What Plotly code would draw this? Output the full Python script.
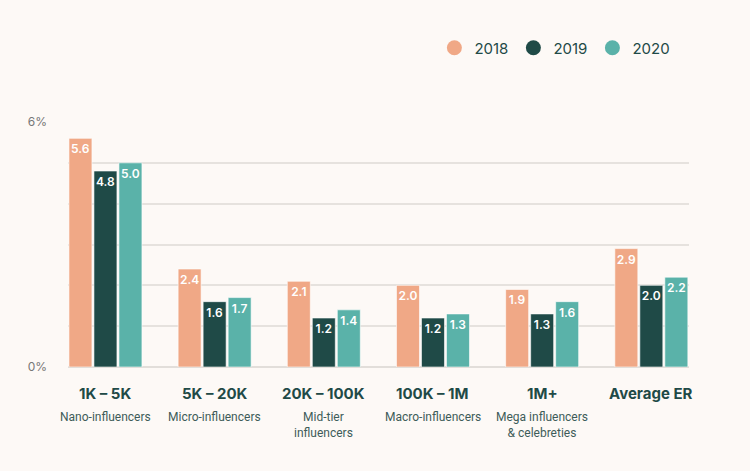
import plotly.graph_objects as go

categories = ["1K – 5K", "5K – 20K", "20K – 100K", "100K – 1M", "1M+", "Average ER"]
subtitles = ["Nano-influencers", "Micro-influencers", "Mid-tier<br>influencers",
             "Macro-influencers", "Mega influencers<br>& celebreties", ""]
years = ["2018", "2019", "2020"]
v2018 = [5.6, 2.4, 2.1, 2.0, 1.9, 2.9]
v2019 = [4.8, 1.6, 1.2, 1.2, 1.3, 2.0]
v2020 = [5.0, 1.7, 1.4, 1.3, 1.6, 2.2]
colors = ["#F0A886", "#1F4A47", "#5AB2A9"]
y_ticks = [0, 1, 2, 3, 4, 5, 6]
y_ticktext = ["0%", "", "", "", "", "", "6%"]

BG = "#FDF9F6"
DARK = "#1F4A47"
FONT = "Inter, Roboto, sans-serif"

fig = go.Figure()
xs = list(range(len(categories)))
for yr, vals, col in zip(years, [v2018, v2019, v2020], colors):
    fig.add_trace(go.Bar(
        x=xs, y=vals, name=yr, marker=dict(color=col, line=dict(color="rgba(255,255,255,0.6)", width=1)),
        texttemplate="%{y:.1f}", textposition="inside", insidetextanchor="end", textangle=0,
        textfont=dict(color="white", size=12, family=FONT, weight=600),
        showlegend=False, hoverinfo="skip", cliponaxis=False,
    ))
    fig.add_trace(go.Scatter(
        x=[None], y=[None], mode="markers", name=yr,
        marker=dict(symbol="circle", size=15, color=col), showlegend=True,
    ))

for i, (cat, sub) in enumerate(zip(categories, subtitles)):
    fig.add_annotation(x=i, y=0, xref="x", yref="paper", text=f"<b>{cat}</b>",
                       showarrow=False, yanchor="middle", yshift=-26,
                       font=dict(size=15, color=DARK, family=FONT))
    if sub:
        fig.add_annotation(x=i, y=0, xref="x", yref="paper", text=sub,
                           showarrow=False, yanchor="top", yshift=-41,
                           font=dict(size=12, color="#3E5C59", family="Roboto, sans-serif"))

fig.update_layout(
    width=750, height=471,
    paper_bgcolor=BG, plot_bgcolor=BG,
    margin=dict(l=68, r=61, t=122, b=104),
    barmode="group", bargap=0.313, bargroupgap=0.08,
    uniformtext=dict(minsize=12, mode="show"),
    font=dict(family=FONT, color=DARK),
    legend=dict(orientation="h", x=0.59, xanchor="left", y=1.302, yanchor="middle",
                font=dict(size=15, color=DARK, family=FONT),
                bgcolor="rgba(0,0,0,0)", itemsizing="trace"),
    xaxis=dict(range=[-0.343, 5.345], showticklabels=False, showgrid=False,
               zeroline=False, showline=False, ticks=""),
    yaxis=dict(range=[0, 6], tickvals=y_ticks, ticktext=y_ticktext,
               showgrid=True, gridcolor="#E6E2DE", gridwidth=1.5,
               zeroline=True, zerolinecolor="#E2DEDA", zerolinewidth=2,
               tickfont=dict(size=12, color="#777777", family=FONT),
               ticks="", ticklabelstandoff=20),
)

fig.write_html("out.html", config={"displayModeBar": False},
               post_script=f"document.body.style.margin='0';document.body.style.background='{BG}';")
